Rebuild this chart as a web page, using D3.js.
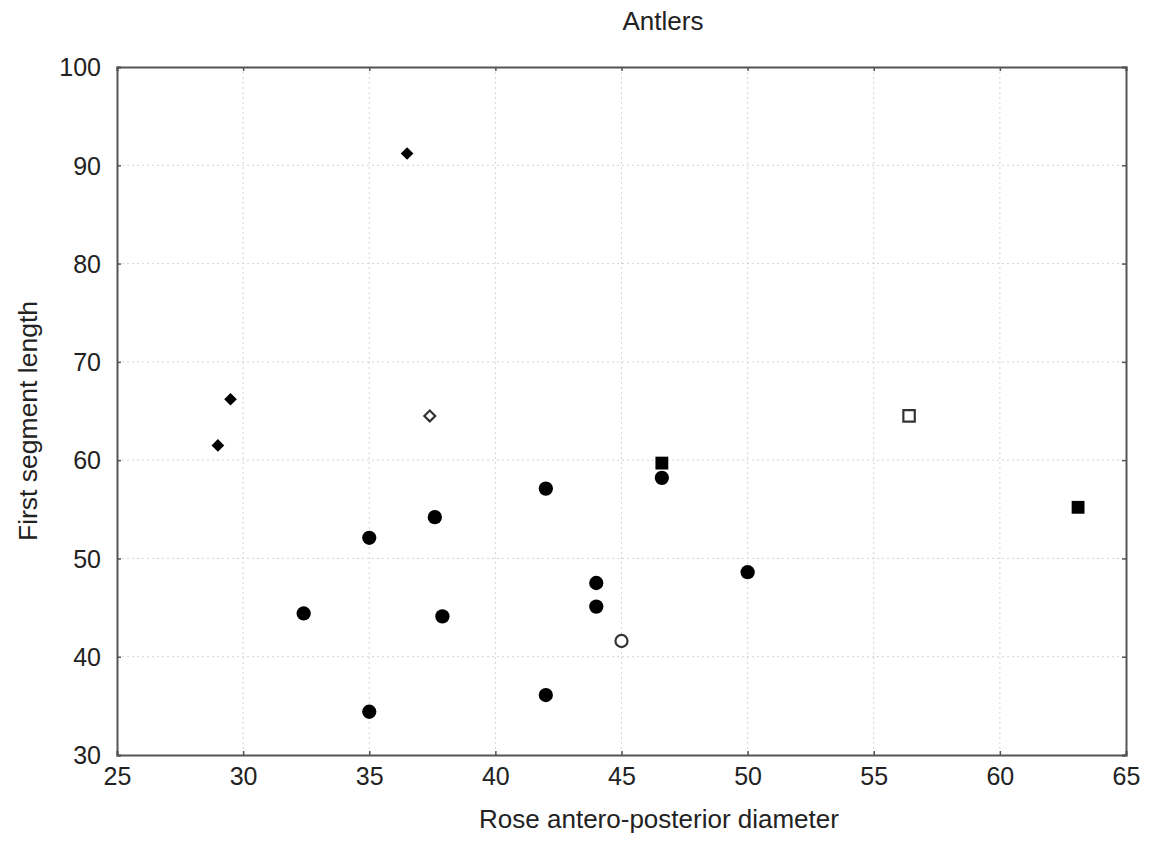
<!DOCTYPE html>
<html>
<head>
<meta charset="utf-8">
<script src="https://cdn.jsdelivr.net/npm/d3@7"></script>
<style>
  body { margin: 0; background: #fff; }
  text { font-family: "Liberation Sans", Arial, sans-serif; fill: #222; }
</style>
</head>
<body>
<div id="chart-area"></div>
<script>
// values, [diameter, length]
const filledCircles = [
  [46.6, 58.2], [42.0, 57.1], [37.6, 54.2], [35.0, 52.1], [32.4, 44.4],
  [37.9, 44.1], [44.0, 47.5], [44.0, 45.1], [50.0, 48.6], [42.0, 36.1],
  [35.0, 34.4]
]
const openCircles = [[45.0, 41.6]]
const filledDiamonds = [[36.5, 91.2], [29.5, 66.2], [29.0, 61.5]]
const openDiamonds = [[37.4, 64.5]]
const filledSquares = [[46.6, 59.7], [63.1, 55.2]]
const openSquares = [[56.4, 64.5]]

const xTicks = [25, 30, 35, 40, 45, 50, 55, 60, 65]
const yTicks = [30, 40, 50, 60, 70, 80, 90, 100]

const TITLE = "Antlers"
const X_LABEL = "Rose antero-posterior diameter"
const Y_LABEL = "First segment length"

const W = 1153, H = 843
const MARGIN = { LEFT: 117, RIGHT: 27, TOP: 67, BOTTOM: 88 }

const svg = d3.select("#chart-area").append("svg")
  .attr("width", W)
  .attr("height", H)

const x = d3.scaleLinear()
  .domain([25, 65])
  .range([MARGIN.LEFT, W - MARGIN.RIGHT])
const y = d3.scaleLinear()
  .domain([30, 100])
  .range([H - MARGIN.BOTTOM, MARGIN.TOP])

// grid
const grid = svg.append("g")
  .attr("stroke", "#d4d4d4")
  .attr("stroke-width", 1)
  .attr("stroke-dasharray", "2,3")
grid.selectAll(".vgrid")
  .data(xTicks.slice(1, -1))
  .enter().append("line")
  .attr("x1", d => x(d)).attr("x2", d => x(d))
  .attr("y1", y(100)).attr("y2", y(30))
grid.selectAll(".hgrid")
  .data(yTicks.slice(1, -1))
  .enter().append("line")
  .attr("y1", d => y(d)).attr("y2", d => y(d))
  .attr("x1", x(25)).attr("x2", x(65))

// axes
const xAxis = d3.axisBottom(x).tickValues(xTicks).tickSize(-4).tickPadding(12)
const yAxis = d3.axisLeft(y).tickValues(yTicks).tickSize(-4).tickPadding(16)

const gx = svg.append("g")
  .attr("transform", `translate(0, ${y(30)})`)
  .call(xAxis)
const gy = svg.append("g")
  .attr("transform", `translate(${x(25)}, 0)`)
  .call(yAxis)

svg.append("g")
  .attr("transform", `translate(0, ${y(100)})`)
  .call(d3.axisTop(x).tickValues(xTicks).tickSize(-4).tickFormat(""))
svg.append("g")
  .attr("transform", `translate(${x(65)}, 0)`)
  .call(d3.axisRight(y).tickValues(yTicks).tickSize(-4).tickFormat(""))

svg.selectAll(".domain").attr("stroke", "#555").attr("stroke-width", 2)
svg.selectAll(".tick line").attr("stroke", "#555").attr("stroke-width", 1.5)
svg.selectAll(".tick text")
  .attr("font-size", "25px")
  .attr("fill", "#222")
  .attr("font-family", "Liberation Sans, Arial, sans-serif")
gx.selectAll(".tick text").attr("dy", "0.71em")
gy.selectAll(".tick text").attr("dy", "0.35em")

// labels
svg.append("text")
  .attr("x", 663).attr("y", 30)
  .attr("font-size", "26px")
  .attr("text-anchor", "middle")
  .text(TITLE)
svg.append("text")
  .attr("x", 659).attr("y", 828)
  .attr("font-size", "26px")
  .attr("text-anchor", "middle")
  .text(X_LABEL)
svg.append("text")
  .attr("transform", "rotate(-90)")
  .attr("x", -421).attr("y", 37)
  .attr("font-size", "26.5px")
  .attr("text-anchor", "middle")
  .text(Y_LABEL)

// markers
const pts = svg.append("g")
const circle = d3.symbol().type(d3.symbolCircle)
const square = d3.symbol().type(d3.symbolSquare)

function draw(data, gen, size, filled, rotate) {
  pts.selectAll(null)
    .data(data)
    .enter().append("path")
    .attr("d", gen.size(size)())
    .attr("transform", d => `translate(${x(d[0])}, ${y(d[1])})` + (rotate ? " rotate(45)" : ""))
    .attr("fill", filled ? "#000" : "#fff")
    .attr("stroke", filled ? "none" : "#333")
    .attr("stroke-width", 2.2)
}

draw(filledCircles, circle, 160, true, false)
draw(openCircles, circle, 115, false, false)
draw(filledDiamonds, square, 80, true, true)
draw(openDiamonds, square, 60, false, true)
draw(filledSquares, square, 165, true, false)
draw(openSquares, square, 130, false, false)
</script>
</body>
</html>
